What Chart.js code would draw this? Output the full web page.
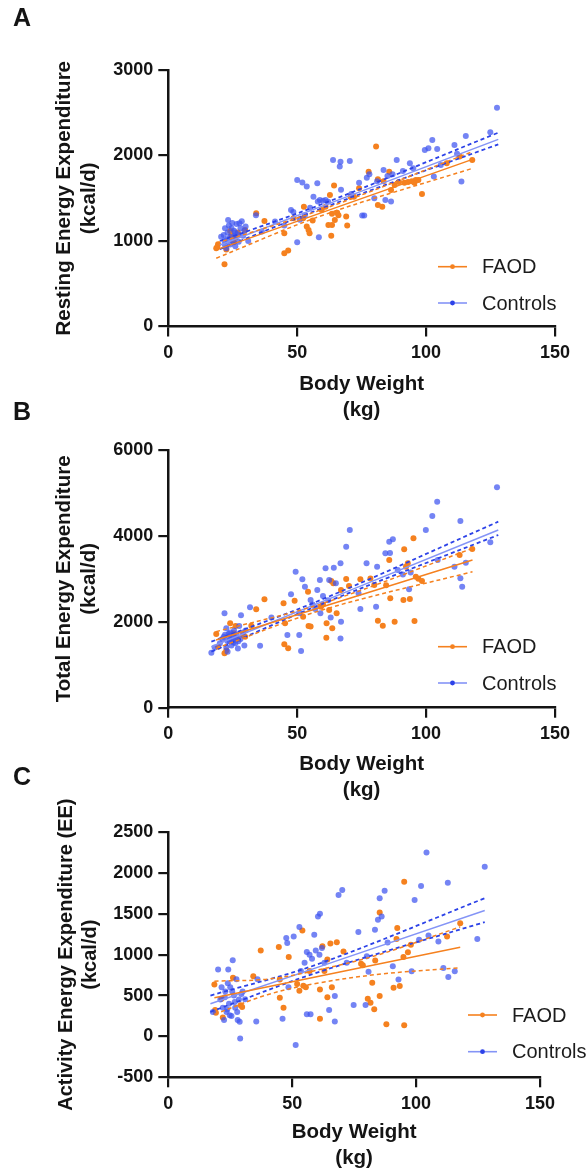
<!DOCTYPE html>
<html>
<head>
<meta charset="utf-8">
<script src="https://cdn.jsdelivr.net/npm/chart.js@4.4.0/dist/chart.umd.min.js"></script>
<style>
  html, body { margin: 0; padding: 0; background: #fff; }
  body { width: 587px; height: 1172px; position: relative; overflow: hidden; }
  canvas { position: absolute; left: 0; }
</style>
</head>
<body>
<canvas id="chartA" width="587" height="424" style="top:0px;width:587px;height:424px"></canvas>
<canvas id="chartB" width="587" height="409" style="top:395px;width:587px;height:409px"></canvas>
<canvas id="chartC" width="587" height="407" style="top:765px;width:587px;height:407px"></canvas>
<script>
// series labels
const seriesLabels = ['FAOD', 'Controls'];
const xTitle = ['Body Weight', '(kg)'];

// --- A: resting energy expenditure ---
const aFaodKg = [18.6, 19.3, 19.0, 21.8, 22.5, 24, 24.5, 25.4, 26.1, 27, 29.8, 34.1, 37.3, 45, 46.5, 45, 48.6, 52.3, 52.6, 53.7, 54.4, 54.8, 56, 59.5, 61, 62.1, 63.5, 62.7, 64.3, 63.2, 64.6, 65.5, 66, 63.5, 69, 69.4, 70.7, 72, 74, 77.7, 80.6, 81.3, 83, 81.3, 83.5, 85.7, 86.4, 87.8, 89.5, 91.6, 93, 94.5, 95.5, 96, 97, 98.4, 108, 113, 117.9];
const aFaodRee = [915, 962, 930, 728, 900, 1118, 1060, 985, 1044, 1100, 1130, 1324, 1235, 857, 888, 1091, 1266, 1266, 1402, 1169, 1130, 1091, 1240, 1363, 1402, 1188, 1188, 1539, 1648, 1060, 1247, 1330, 1300, 1320, 1286, 1180, 1519, 1519, 1617, 1811, 2104, 1422, 1402, 1722, 1700, 1811, 1597, 1656, 1690, 1680, 1690, 1700, 1680, 1714, 1714, 1550, 1909, 1987, 1948];
const aCtrlKg = [20.5, 21.5, 21.8, 22, 22, 22.5, 22.8, 23, 23.2, 23.5, 24, 24, 24.5, 24.8, 25, 25.5, 25.8, 26, 26, 26.5, 27, 27.3, 27.6, 28, 28.5, 29, 29.5, 30, 31, 34, 36.3, 41.4, 45, 47.6, 48.5, 50, 52, 50, 51, 53, 53.7, 55, 56.3, 57.8, 58, 58.8, 58.4, 60, 61, 62, 63.9, 66.8, 70.4, 66.5, 67, 71, 74, 75.2, 76, 77, 78, 79.9, 81, 84.2, 86.4, 83.5, 85, 87, 88.6, 91, 93.7, 95, 99.5, 100.9, 102.4, 104.3, 103, 105.7, 111, 112, 113.7, 115.4, 124.9, 127.5];
const aCtrlRee = [1050, 1071, 1000, 950, 1150, 915, 1020, 1100, 1247, 1180, 1050, 960, 1150, 1210, 1000, 1120, 1060, 940, 1100, 1200, 1080, 990, 1208, 1150, 1230, 1060, 1120, 1170, 1000, 1300, 1110, 1227, 1180, 1363, 1340, 1714, 1683, 985, 1250, 1300, 1636, 1390, 1519, 1675, 1461, 1480, 1044, 1470, 1480, 1460, 1948, 1928, 1936, 1870, 1600, 1550, 1680, 1297, 1297, 1740, 1780, 1500, 1700, 1480, 1461, 1831, 1760, 1780, 1948, 1820, 1909, 1850, 2065, 2084, 2182, 2076, 1753, 1889, 2123, 2020, 1695, 2228, 2271, 2559];
const aFaodFitKg = [18.6, 118];
const aFaodFit = [896, 1955];
const aFaodCiKg = [18.6, 60, 118];
const aFaodUpper = [974, 1372, 2045];
const aFaodLower = [799, 1302, 1850];
const aCtrlFitKg = [20, 128];
const aCtrlFit = [954, 2189];
const aCtrlCiKg = [20, 60, 128];
const aCtrlUpper = [1000, 1436, 2267];
const aCtrlLower = [905, 1386, 2131];

// --- B: total energy expenditure ---
const bFaodKg = [18.6, 19.3, 21.8, 22.5, 24, 25.4, 26.1, 27, 29, 29.8, 32.2, 34.1, 37.3, 44.7, 45, 46.5, 45.3, 49, 52.3, 54.2, 54.4, 55.2, 59.2, 60, 61.3, 61.4, 62.4, 63.2, 64, 63.6, 65.3, 67, 69, 70.1, 74.5, 78.4, 79.9, 81.3, 83.2, 84.5, 85.7, 86.1, 87.8, 91.5, 92.2, 92.9, 91.2, 93.7, 95.1, 95.5, 96, 97, 98.4, 113, 117.9];
const bFaodTee = [1715, 1420, 1265, 1330, 1964, 1731, 1902, 1600, 1692, 1653, 1910, 2290, 2523, 2430, 1475, 1382, 1964, 2492, 2119, 2701, 1902, 1890, 2352, 2400, 1630, 1964, 2274, 2950, 2900, 1847, 2197, 2740, 2996, 2833, 2988, 3011, 2856, 2026, 1910, 2850, 3439, 2546, 2003, 3687, 3283, 3361, 2507, 2530, 3943, 2018, 3050, 3000, 2950, 3555, 3695];
const bCtrlKg = [16.7, 18, 20, 21, 21.5, 21.8, 22, 22.5, 22.5, 23, 23, 23.4, 23.5, 23.8, 24, 24.2, 24.5, 24.6, 25, 25.2, 25.5, 26, 26.2, 26.5, 27, 27.2, 27.5, 28, 28.2, 29, 29.5, 30, 31.7, 35.6, 40, 46.2, 47.6, 49.4, 50.8, 51.5, 52, 50.8, 53, 55.2, 56, 57, 57.8, 58.8, 59, 60, 61, 62, 62.4, 63, 64.2, 65, 66.8, 66.8, 67, 69, 70.4, 73.8, 74.5, 76.9, 80.6, 81, 85.7, 87.1, 84.2, 86, 89, 91, 93.4, 94, 99.9, 102.4, 104.3, 104.5, 111, 113.3, 113.3, 114, 115.4, 124.9, 127.5];
const bCtrlTee = [1280, 1400, 1500, 1600, 1650, 2197, 1700, 1400, 1850, 1550, 1300, 1720, 1650, 1550, 1750, 1680, 1450, 1580, 1600, 1520, 1800, 1500, 1620, 1700, 1380, 1550, 1900, 1600, 2150, 1750, 1450, 1800, 2336, 1444, 2100, 1692, 2639, 3167, 1692, 1320, 2988, 2197, 2818, 2507, 2400, 2300, 2740, 2973, 2200, 2600, 3245, 2500, 2973, 2100, 3260, 2900, 3361, 1614, 2000, 3749, 4137, 2662, 2300, 3361, 2352, 3283, 3866, 3920, 3594, 3600, 3206, 3100, 2756, 3150, 4137, 4463, 4797, 3439, 3283, 4347, 3012, 2818, 3376, 3850, 5131];
const bFaodFitKg = [18.5, 118];
const bFaodFit = [1576, 3439];
const bFaodCiKg = [18.5, 60, 118];
const bFaodUpper = [1770, 2430, 3710];
const bFaodLower = [1382, 2280, 3167];
const bCtrlFitKg = [16.7, 128];
const bCtrlFit = [1420, 4137];
const bCtrlCiKg = [16.7, 60, 128];
const bCtrlUpper = [1537, 2530, 4331];
const bCtrlLower = [1304, 2425, 4021];

// --- C: activity energy expenditure ---
const cFaodKg = [18.6, 18.9, 19.2, 21.5, 22, 26.1, 29.2, 29.8, 34.3, 37.3, 44.6, 45, 45, 46.5, 48.6, 52, 52.9, 54.1, 54.5, 55.5, 57, 61.2, 61.2, 62.2, 63, 64.2, 64.2, 65.4, 66, 68, 70.7, 77.8, 78.5, 80.5, 81.6, 82.3, 83.1, 83.5, 85.3, 85.3, 88, 90.9, 92.1, 92.4, 93.4, 94.9, 95.2, 95.2, 96.7, 97.9, 112.5, 117.8];
const cFaodAee = [635, 323, 290, 462, 231, 716, 380, 360, 737, 1050, 1094, 696, 473, 352, 972, 640, 560, 1296, 620, 600, 800, 217, 575, 1102, 800, 940, 478, 1135, 600, 1151, 1040, 890, 870, 460, 412, 656, 331, 927, 1515, 494, 150, 595, 1190, 1325, 616, 972, 1892, 137, 1029, 1122, 1223, 1385];
const cCtrlKg = [18, 20.1, 21, 21.5, 22, 22.5, 22.8, 23, 23.5, 23.8, 24, 24.2, 24.5, 24.8, 25, 25.5, 25.8, 26, 26.5, 26.8, 27, 27.5, 27.8, 28, 28.5, 28.8, 29, 29.5, 30, 31, 35.5, 36, 46.1, 47.6, 48, 48.5, 50.6, 51.4, 52.9, 53.5, 55.9, 57.4, 55, 55.9, 57, 58, 58.9, 59.5, 60.4, 61.2, 61, 62, 63, 64.9, 67.2, 67.2, 68.7, 70.2, 72, 74.8, 76.7, 79.6, 80.1, 80.8, 83.4, 84.6, 85.3, 86.1, 87.3, 88.5, 90.6, 92.9, 98.2, 99.4, 101.2, 102, 104.2, 105, 109, 111, 112.8, 113, 115.6, 124.7, 127.7];
const cCtrlAee = [300, 817, 450, 600, 350, 200, 480, 550, 300, 330, 650, 817, 400, 260, 600, 250, 550, 931, 500, 420, 350, 700, 300, 200, 450, 180, -24, 520, 550, 455, 183, 700, 217, 1203, 1142, 600, 1223, -105, 1337, 800, 271, 271, 900, 1032, 1000, 950, 1244, 1050, 1467, 1499, 1000, 1080, 900, 323, 183, 494, 1730, 1791, 900, 384, 1276, 384, 980, 790, 1304, 1426, 1690, 1467, 1783, 1150, 858, 696, 798, 1669, 1183, 1839, 2249, 1235, 1162, 838, 1880, 728, 798, 1191, 2074];
const cFaodFitKg = [18.6, 117.8];
const cFaodFit = [473, 1090];
const cFaodCiKg = [18.6, 40, 60, 85, 117.8];
const cFaodUpper = [676, 700, 810, 1000, 1340];
const cFaodLower = [270, 510, 650, 760, 840];
const cCtrlFitKg = [17, 127.7];
const cCtrlFit = [400, 1540];
const cCtrlCiKg = [17, 60, 127.7];
const cCtrlUpper = [500, 880, 1690];
const cCtrlLower = [300, 780, 1398];

const FONT = '"Liberation Sans", Arial, Helvetica, sans-serif';
const INK = '#141414';
const ORANGE = '#F5811F';
const BLUE_PT = 'rgba(62, 84, 240, 0.72)';
const BLUE_FIT = '#8494F6';
const BLUE_CI = '#2C42E8';

Chart.defaults.font.family = FONT;

function pts(xs, ys) {
  return xs.map((x, i) => ({ x: x, y: ys[i] }));
}

// panel letter and legend
const decor = {
  id: 'decor',
  afterDraw(chart) {
    const o = chart.options.plugins.decor;
    const ctx = chart.ctx;
    ctx.save();
    ctx.fillStyle = INK;
    ctx.textBaseline = 'middle';
    ctx.textAlign = 'center';
    ctx.font = 'bold 25px ' + FONT;
    ctx.fillText(o.letter, 22, o.letterY);

    ctx.font = '20px ' + FONT;
    ctx.textAlign = 'left';
    const colors = [ORANGE, BLUE_FIT];
    seriesLabels.forEach((label, i) => {
      const y = o.legendY[i];
      ctx.strokeStyle = colors[i];
      ctx.lineWidth = 1.6;
      ctx.beginPath();
      ctx.moveTo(o.legendX, y);
      ctx.lineTo(o.legendX + 29, y);
      ctx.stroke();
      ctx.fillStyle = i === 0 ? ORANGE : BLUE_CI;
      ctx.beginPath();
      ctx.arc(o.legendX + 14.5, y, 2.4, 0, Math.PI * 2);
      ctx.fill();
      ctx.fillStyle = '#1c1c1c';
      ctx.fillText(label, o.legendX + 44, y + 1);
    });
    ctx.restore();
  }
};

function lineSet(xs, ys, color, dashed, width) {
  return {
    type: 'line',
    data: pts(xs, ys),
    borderColor: color,
    borderWidth: width,
    borderDash: dashed ? [4, 3] : [],
    pointRadius: 0,
    fill: false,
    tension: 0.35,
    order: 0
  };
}

function makePanel(id, p) {
  new Chart(document.getElementById(id), {
    type: 'scatter',
    data: {
      datasets: [
        lineSet(p.faodFitKg, p.faodFit, ORANGE, false, 1.5),
        lineSet(p.faodCiKg, p.faodUpper, ORANGE, true, 1.5),
        lineSet(p.faodCiKg, p.faodLower, ORANGE, true, 1.5),
        lineSet(p.ctrlFitKg, p.ctrlFit, BLUE_FIT, false, 1.5),
        lineSet(p.ctrlCiKg, p.ctrlUpper, BLUE_CI, true, 1.8),
        lineSet(p.ctrlCiKg, p.ctrlLower, BLUE_CI, true, 1.8),
        { label: seriesLabels[1], data: pts(p.ctrlKg, p.ctrlY), backgroundColor: BLUE_PT,
          borderWidth: 0, pointRadius: 3, order: 1 },
        { label: seriesLabels[0], data: pts(p.faodKg, p.faodY), backgroundColor: ORANGE,
          borderWidth: 0, pointRadius: 3, order: 2 }
      ]
    },
    options: {
      responsive: false,
      animation: false,
      events: [],
      layout: { padding: { top: p.padTop, right: p.padRight, left: 0, bottom: 0 } },
      plugins: {
        legend: { display: false },
        tooltip: { enabled: false },
        decor: { letter: p.letter, letterY: p.letterY, legendX: p.legendX, legendY: p.legendY }
      },
      scales: {
        x: {
          type: 'linear', min: 0, max: 150,
          ticks: { stepSize: 50, color: INK, padding: 6, font: { size: 18, weight: 'bold' },
                   callback: v => String(v) },
          grid: { drawOnChartArea: false, drawTicks: true, tickLength: 10, color: INK, lineWidth: 2.2 },
          border: { display: true, color: INK, width: 2.5 },
          title: { display: true, text: xTitle, color: INK, padding: 0,
                   font: { size: 20.5, weight: 'bold', lineHeight: 1.3 } },
          afterFit: s => { s.height = p.xH; }
        },
        y: {
          type: 'linear', min: p.yMin, max: p.yMax,
          ticks: { stepSize: p.yStep, color: INK, padding: 5, font: { size: 18, weight: 'bold' },
                   callback: v => String(v) },
          grid: { drawOnChartArea: false, drawTicks: true, tickLength: 10, color: INK, lineWidth: 2.2 },
          border: { display: true, color: INK, width: 2.5 },
          title: { display: true, text: p.yTitle, color: INK, padding: { top: p.yTitlePad, bottom: 0 },
                   font: { size: p.yTitleSize, weight: 'bold', lineHeight: 1.22 } },
          afterFit: s => { s.width = 168.3; }
        }
      }
    },
    plugins: [decor]
  });
}

makePanel('chartA', {
  faodKg: aFaodKg, faodY: aFaodRee, ctrlKg: aCtrlKg, ctrlY: aCtrlRee,
  faodFitKg: aFaodFitKg, faodFit: aFaodFit, faodCiKg: aFaodCiKg, faodUpper: aFaodUpper, faodLower: aFaodLower,
  ctrlFitKg: aCtrlFitKg, ctrlFit: aCtrlFit, ctrlCiKg: aCtrlCiKg, ctrlUpper: aCtrlUpper, ctrlLower: aCtrlLower,
  yMin: 0, yMax: 3000, yStep: 1000,
  yTitle: ['Resting Energy Expenditure', '(kcal/d)'], yTitleSize: 20.5, yTitlePad: 51.5,
  padTop: 70, padRight: 32, xH: 97.5,
  letter: 'A', letterY: 19, legendX: 438, legendY: [266.7, 303]
});

makePanel('chartB', {
  faodKg: bFaodKg, faodY: bFaodTee, ctrlKg: bCtrlKg, ctrlY: bCtrlTee,
  faodFitKg: bFaodFitKg, faodFit: bFaodFit, faodCiKg: bFaodCiKg, faodUpper: bFaodUpper, faodLower: bFaodLower,
  ctrlFitKg: bCtrlFitKg, ctrlFit: bCtrlFit, ctrlCiKg: bCtrlCiKg, ctrlUpper: bCtrlUpper, ctrlLower: bCtrlLower,
  yMin: 0, yMax: 6000, yStep: 2000,
  yTitle: ['Total Energy Expenditure', '(kcal/d)'], yTitleSize: 20.5, yTitlePad: 51.5,
  padTop: 55, padRight: 32, xH: 96.3,
  letter: 'B', letterY: 18, legendX: 438, legendY: [251.7, 288]
});

makePanel('chartC', {
  faodKg: cFaodKg, faodY: cFaodAee, ctrlKg: cCtrlKg, ctrlY: cCtrlAee,
  faodFitKg: cFaodFitKg, faodFit: cFaodFit, faodCiKg: cFaodCiKg, faodUpper: cFaodUpper, faodLower: cFaodLower,
  ctrlFitKg: cCtrlFitKg, ctrlFit: cCtrlFit, ctrlCiKg: cCtrlCiKg, ctrlUpper: cCtrlUpper, ctrlLower: cCtrlLower,
  yMin: -500, yMax: 2500, yStep: 500,
  yTitle: ['Activity Energy Expenditure (EE)', '(kcal/d)'], yTitleSize: 20, yTitlePad: 54,
  padTop: 67, padRight: 47, xH: 94.7,
  letter: 'C', letterY: 13, legendX: 468, legendY: [250, 286.7]
});
</script>
</body>
</html>
